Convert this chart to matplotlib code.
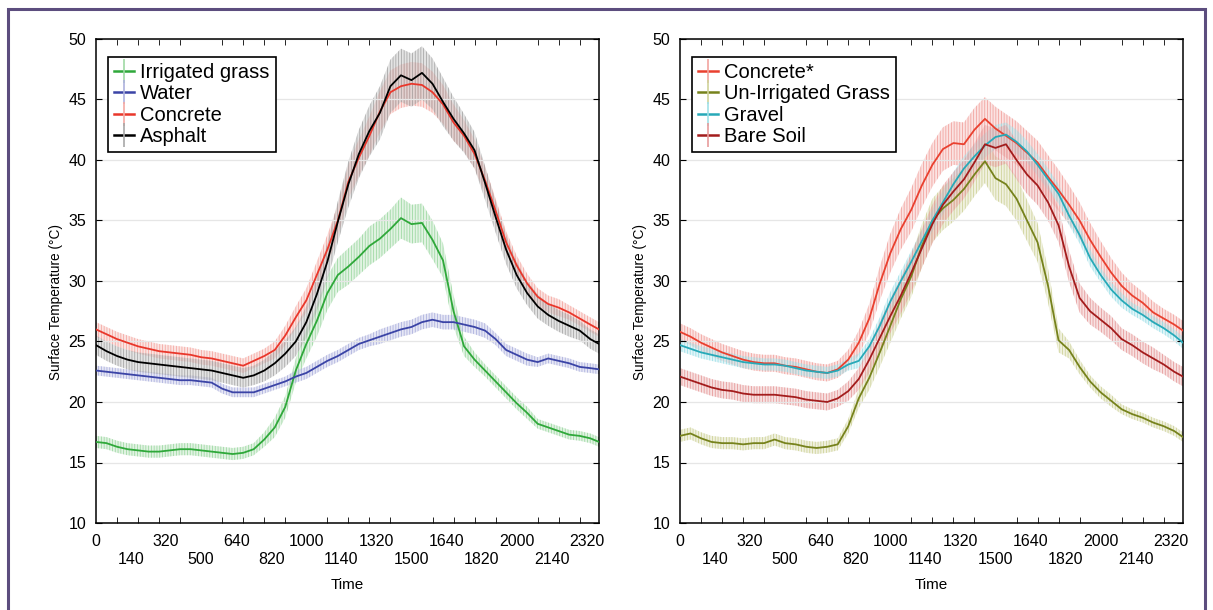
import matplotlib
matplotlib.use("Agg")
import numpy as np
import matplotlib.pyplot as plt
from matplotlib.lines import Line2D
from matplotlib.patches import Rectangle

plt.rcParams["font.family"] = ["Liberation Sans", "DejaVu Sans"]
plt.rcParams["hatch.linewidth"] = 0.6

# ---------------------------------------------------------------- data
# sample times, minutes after midnight
TIME_MIN = [0, 30, 60, 90, 120, 150, 180, 210, 240, 270,
            300, 330, 360, 390, 420, 450, 480, 510, 540, 570,
            600, 630, 660, 690, 720, 750, 780, 810, 840, 870,
            900, 930, 960, 990, 1020, 1050, 1080, 1110, 1140, 1170,
            1200, 1230, 1260, 1290, 1320, 1350, 1380, 1410, 1435]

# clock-time tick labels (HHMM without leading zeros)
TICK_LABELS = ["0", "140", "320", "500", "640", "820", "1000", "1140",
               "1320", "1500", "1640", "1820", "2000", "2140", "2320"]

# left panel
IRR_GRASS = [16.7, 16.6, 16.3, 16.1, 16.0, 15.9, 15.9, 16.0, 16.1, 16.1,
             16.0, 15.9, 15.8, 15.7, 15.8, 16.1, 16.9, 17.9, 19.6, 22.6,
             24.8, 26.7, 29.0, 30.5, 31.2, 32.0, 32.9, 33.5, 34.3, 35.2,
             34.7, 34.8, 33.4, 31.7, 27.5, 24.6, 23.5, 22.6, 21.7, 20.8,
             19.9, 19.1, 18.2, 17.9, 17.6, 17.3, 17.2, 17.0, 16.7]
IRR_GRASS_ERR = [0.5, 0.5, 0.5, 0.5, 0.5, 0.5, 0.5, 0.5, 0.5, 0.5,
                 0.5, 0.5, 0.5, 0.5, 0.5, 0.5, 0.6, 0.8, 0.9, 1.0,
                 1.2, 1.3, 1.4, 1.4, 1.5, 1.5, 1.6, 1.6, 1.6, 1.7,
                 1.6, 1.6, 1.6, 1.4, 1.3, 0.8, 0.6, 0.5, 0.5, 0.5,
                 0.5, 0.5, 0.4, 0.4, 0.4, 0.4, 0.4, 0.4, 0.4]

WATER = [22.6, 22.5, 22.4, 22.3, 22.2, 22.1, 22.0, 21.9, 21.8, 21.8,
         21.7, 21.6, 21.1, 20.8, 20.8, 20.8, 21.1, 21.4, 21.7, 22.1,
         22.4, 22.9, 23.4, 23.8, 24.3, 24.8, 25.1, 25.4, 25.7, 26.0,
         26.2, 26.6, 26.8, 26.6, 26.6, 26.4, 26.2, 25.9, 25.2, 24.3,
         23.9, 23.5, 23.3, 23.6, 23.4, 23.2, 22.9, 22.8, 22.7]
WATER_ERR = [0.4, 0.4, 0.4, 0.4, 0.4, 0.4, 0.4, 0.4, 0.4, 0.4,
             0.4, 0.4, 0.4, 0.4, 0.4, 0.4, 0.4, 0.4, 0.4, 0.5,
             0.5, 0.5, 0.5, 0.5, 0.5, 0.5, 0.5, 0.6, 0.6, 0.6,
             0.6, 0.6, 0.6, 0.6, 0.6, 0.6, 0.6, 0.6, 0.5, 0.5,
             0.5, 0.5, 0.4, 0.4, 0.4, 0.4, 0.4, 0.4, 0.4]

CONCRETE = [26.0, 25.6, 25.2, 24.9, 24.6, 24.4, 24.2, 24.1, 24.0, 23.9,
            23.7, 23.6, 23.4, 23.2, 23.0, 23.4, 23.8, 24.3, 25.5, 27.0,
            28.4, 30.5, 32.6, 35.0, 38.2, 40.2, 42.0, 44.0, 45.6, 46.1,
            46.3, 46.2, 45.6, 44.6, 43.1, 42.0, 40.5, 38.3, 35.8, 33.2,
            31.3, 29.8, 28.7, 28.1, 27.8, 27.4, 26.9, 26.4, 26.0]
CONCRETE_ERR = [0.6, 0.6, 0.6, 0.6, 0.6, 0.6, 0.6, 0.6, 0.6, 0.6,
                0.6, 0.6, 0.6, 0.6, 0.6, 0.6, 0.6, 0.7, 0.8, 0.9,
                1.0, 1.1, 1.2, 1.3, 1.4, 1.5, 1.6, 1.7, 1.8, 1.8,
                1.8, 1.8, 1.7, 1.6, 1.5, 1.3, 1.2, 1.1, 1.0, 0.9,
                0.8, 0.8, 0.7, 0.7, 0.7, 0.6, 0.6, 0.6, 0.6]

ASPHALT = [24.7, 24.2, 23.8, 23.5, 23.3, 23.2, 23.1, 23.0, 22.9, 22.8,
           22.7, 22.6, 22.4, 22.2, 22.0, 22.2, 22.6, 23.2, 24.0, 25.0,
           26.6, 28.9, 31.6, 34.9, 38.0, 40.5, 42.4, 43.9, 46.1, 47.0,
           46.6, 47.2, 46.3, 44.8, 43.4, 42.2, 40.8, 38.1, 35.3, 32.6,
           30.5, 29.0, 27.9, 27.2, 26.7, 26.3, 25.9, 25.2, 24.8]
ASPHALT_ERR = [0.8, 0.8, 0.8, 0.8, 0.8, 0.8, 0.8, 0.8, 0.8, 0.8,
               0.8, 0.8, 0.8, 0.8, 0.8, 0.8, 0.9, 1.0, 1.1, 1.2,
               1.3, 1.4, 1.5, 1.7, 1.9, 2.0, 2.1, 2.2, 2.2, 2.2,
               2.2, 2.2, 2.1, 2.0, 1.8, 1.6, 1.5, 1.4, 1.3, 1.2,
               1.1, 1.0, 1.0, 0.9, 0.9, 0.9, 0.8, 0.8, 0.8]

# right panel
CONCRETE2 = [25.8, 25.4, 24.9, 24.5, 24.1, 23.8, 23.5, 23.3, 23.2, 23.2,
             23.0, 22.9, 22.7, 22.5, 22.4, 22.7, 23.5, 24.9, 26.9, 29.8,
             32.3, 34.3, 35.9, 37.9, 39.6, 40.9, 41.4, 41.3, 42.5, 43.4,
             42.6, 42.0, 41.4, 40.6, 39.8, 38.6, 37.5, 36.3, 35.0, 33.4,
             32.0, 30.7, 29.6, 28.8, 28.2, 27.4, 26.9, 26.4, 25.9]
CONCRETE2_ERR = [0.7, 0.7, 0.7, 0.7, 0.7, 0.7, 0.7, 0.7, 0.7, 0.7,
                 0.7, 0.7, 0.7, 0.7, 0.7, 0.7, 0.8, 1.0, 1.2, 1.4,
                 1.6, 1.7, 1.8, 1.8, 1.8, 1.8, 1.8, 1.8, 1.8, 1.8,
                 1.8, 1.8, 1.8, 1.8, 1.8, 1.8, 1.7, 1.6, 1.5, 1.4,
                 1.3, 1.2, 1.1, 1.0, 0.9, 0.9, 0.8, 0.8, 0.8]

UNIRR_GRASS = [17.2, 17.4, 17.0, 16.7, 16.6, 16.6, 16.5, 16.6, 16.6, 16.9,
               16.6, 16.5, 16.3, 16.2, 16.3, 16.5, 18.0, 20.3, 22.0, 24.1,
               26.3, 28.5, 30.4, 32.9, 35.0, 36.0, 36.7, 37.6, 38.8, 39.9,
               38.5, 38.0, 36.8, 35.0, 33.2, 29.6, 25.1, 24.3, 22.9, 21.7,
               20.8, 20.1, 19.4, 19.0, 18.7, 18.3, 18.0, 17.6, 17.1]
UNIRR_GRASS_ERR = [0.5, 0.5, 0.5, 0.5, 0.5, 0.5, 0.5, 0.5, 0.5, 0.5,
                   0.5, 0.5, 0.5, 0.5, 0.5, 0.5, 0.6, 0.8, 1.0, 1.2,
                   1.4, 1.6, 1.7, 1.8, 1.8, 1.8, 1.8, 1.8, 1.8, 1.8,
                   1.8, 1.8, 1.8, 1.7, 1.6, 1.4, 1.0, 0.7, 0.6, 0.5,
                   0.5, 0.5, 0.4, 0.4, 0.4, 0.4, 0.4, 0.4, 0.4]

GRAVEL = [24.7, 24.4, 24.1, 23.9, 23.7, 23.5, 23.3, 23.2, 23.1, 23.1,
          23.0, 22.8, 22.6, 22.5, 22.4, 22.6, 23.1, 23.4, 24.6, 26.3,
          28.3, 30.0, 31.6, 33.3, 35.0, 36.5, 38.0, 39.3, 40.3, 41.2,
          41.9, 42.1, 41.5, 40.7, 39.6, 38.4, 37.2, 35.4, 33.8, 31.9,
          30.5, 29.3, 28.4, 27.7, 27.2, 26.6, 26.1, 25.5, 24.9]
GRAVEL_ERR = [0.5, 0.5, 0.5, 0.5, 0.5, 0.5, 0.5, 0.5, 0.5, 0.5,
              0.5, 0.5, 0.5, 0.5, 0.5, 0.5, 0.5, 0.6, 0.6, 0.7,
              0.8, 0.8, 0.9, 0.9, 0.9, 1.0, 1.0, 1.0, 1.0, 1.0,
              1.0, 1.0, 1.0, 0.9, 0.9, 0.9, 0.8, 0.8, 0.7, 0.7,
              0.6, 0.6, 0.6, 0.5, 0.5, 0.5, 0.5, 0.5, 0.5]

BARE_SOIL = [22.1, 21.8, 21.5, 21.2, 21.0, 20.9, 20.7, 20.6, 20.6, 20.6,
             20.5, 20.4, 20.2, 20.1, 20.0, 20.3, 20.9, 21.9, 23.5, 25.3,
             27.1, 28.8, 30.7, 32.7, 34.7, 36.3, 37.4, 38.4, 39.8, 41.3,
             41.0, 41.3, 40.0, 38.8, 37.9, 36.5, 34.6, 31.2, 28.6, 27.5,
             26.8, 26.1, 25.2, 24.7, 24.1, 23.6, 23.1, 22.5, 22.1]
BARE_SOIL_ERR = [0.7, 0.7, 0.7, 0.7, 0.7, 0.7, 0.7, 0.7, 0.7, 0.7,
                 0.7, 0.7, 0.7, 0.7, 0.7, 0.7, 0.8, 0.9, 1.1, 1.3,
                 1.4, 1.5, 1.6, 1.6, 1.6, 1.6, 1.6, 1.6, 1.6, 1.6,
                 1.6, 1.6, 1.6, 1.6, 1.6, 1.5, 1.4, 1.3, 1.2, 1.1,
                 1.0, 1.0, 0.9, 0.9, 0.9, 0.9, 0.8, 0.8, 0.8]

# ---------------------------------------------------------------- styles
# label, values, errors, line colour, error-bar colour
LEFT = [
    ("Irrigated grass", IRR_GRASS, IRR_GRASS_ERR, "#2fa83a", "#9fd9a4"),
    ("Water", WATER, WATER_ERR, "#3b44a6", "#aeb2de"),
    ("Concrete", CONCRETE, CONCRETE_ERR, "#e9372b", "#f5a9a3"),
    ("Asphalt", ASPHALT, ASPHALT_ERR, "#000000", "#a8a8a8"),
]
RIGHT = [
    ("Concrete*", CONCRETE2, CONCRETE2_ERR, "#e9402f", "#f2a4a0"),
    ("Un-Irrigated Grass", UNIRR_GRASS, UNIRR_GRASS_ERR, "#76821c", "#cfd39a"),
    ("Gravel", GRAVEL, GRAVEL_ERR, "#27a9b8", "#9fe0e8"),
    ("Bare Soil", BARE_SOIL, BARE_SOIL_ERR, "#a31c1c", "#e79c9c"),
]


def clock_to_min(s):
    v = int(s)
    return (v // 100) * 60 + v % 100


def draw_panel(ax, series):
    t = np.array(TIME_MIN)
    handles = []
    for name, vals, errs, col, band in series:
        y = np.array(vals)
        e = np.array(errs)
        ax.fill_between(t, y - e, y + e, facecolor=band, alpha=0.3,
                        edgecolor="none", lw=0, zorder=1)
        ax.fill_between(t, y - e, y + e, facecolor="none", edgecolor=band,
                        hatch="||||||", lw=0, zorder=1.5)
        ax.plot(t, y, color=col, lw=1.3, zorder=3)
        handles.append(Line2D([], [], color=col, lw=1.8, marker="|", ms=17,
                              mec=band, mew=1.2, label=name))

    ax.set_xlim(0, 1435)
    ax.set_ylim(10, 50)
    ax.set_yticks(np.arange(10, 51, 5))
    ax.tick_params(axis="y", direction="in", length=4, left=True, right=True,
                   labelsize=11.5, pad=7)

    pos = [clock_to_min(s) for s in TICK_LABELS]
    labs = [s if i % 2 == 0 else "\n" + s for i, s in enumerate(TICK_LABELS)]
    ax.set_xticks(pos)
    ax.set_xticklabels(labs)
    ax.set_xticks(np.arange(0, 1436, 60), minor=True)
    ax.tick_params(axis="x", which="major", length=0, labelsize=11.5, pad=8)
    ax.tick_params(axis="x", which="minor", direction="in", length=4,
                   top=True, bottom=True)

    ax.grid(True, axis="y", color="#e6e6e6", lw=0.9, zorder=0)
    for sp in ax.spines.values():
        sp.set_linewidth(1.1)
        sp.set_color("black")

    ax.set_xlabel("Time", fontsize=11, labelpad=8)
    ax.set_ylabel("Surface Temperature (\u00b0C)", fontsize=9.8)
    ax.yaxis.set_label_coords(-0.066, 0.457)

    leg = ax.legend(handles=handles, loc="upper left",
                    bbox_to_anchor=(0.024, 0.963), borderaxespad=0,
                    fontsize=14.5, handlelength=1.0, handletextpad=0.3,
                    labelspacing=0.12, borderpad=0.3, fancybox=False,
                    framealpha=1, edgecolor="black")
    leg.get_frame().set_linewidth(1.2)


fig = plt.figure(figsize=(12.13, 6.10), dpi=100)
ax1 = fig.add_axes([96 / 1213, 87 / 610, 503 / 1213, 484 / 610])
ax2 = fig.add_axes([680 / 1213, 87 / 610, 503 / 1213, 484 / 610])
draw_panel(ax1, LEFT)
draw_panel(ax2, RIGHT)

# purple frame round the figure
fig.patches.append(Rectangle((8 / 1213, -0.05), 1197 / 1213, 1.035,
                             transform=fig.transFigure, fill=False,
                             edgecolor="#5c4d7e", lw=2.2))

fig.savefig("out.png", dpi=100)
